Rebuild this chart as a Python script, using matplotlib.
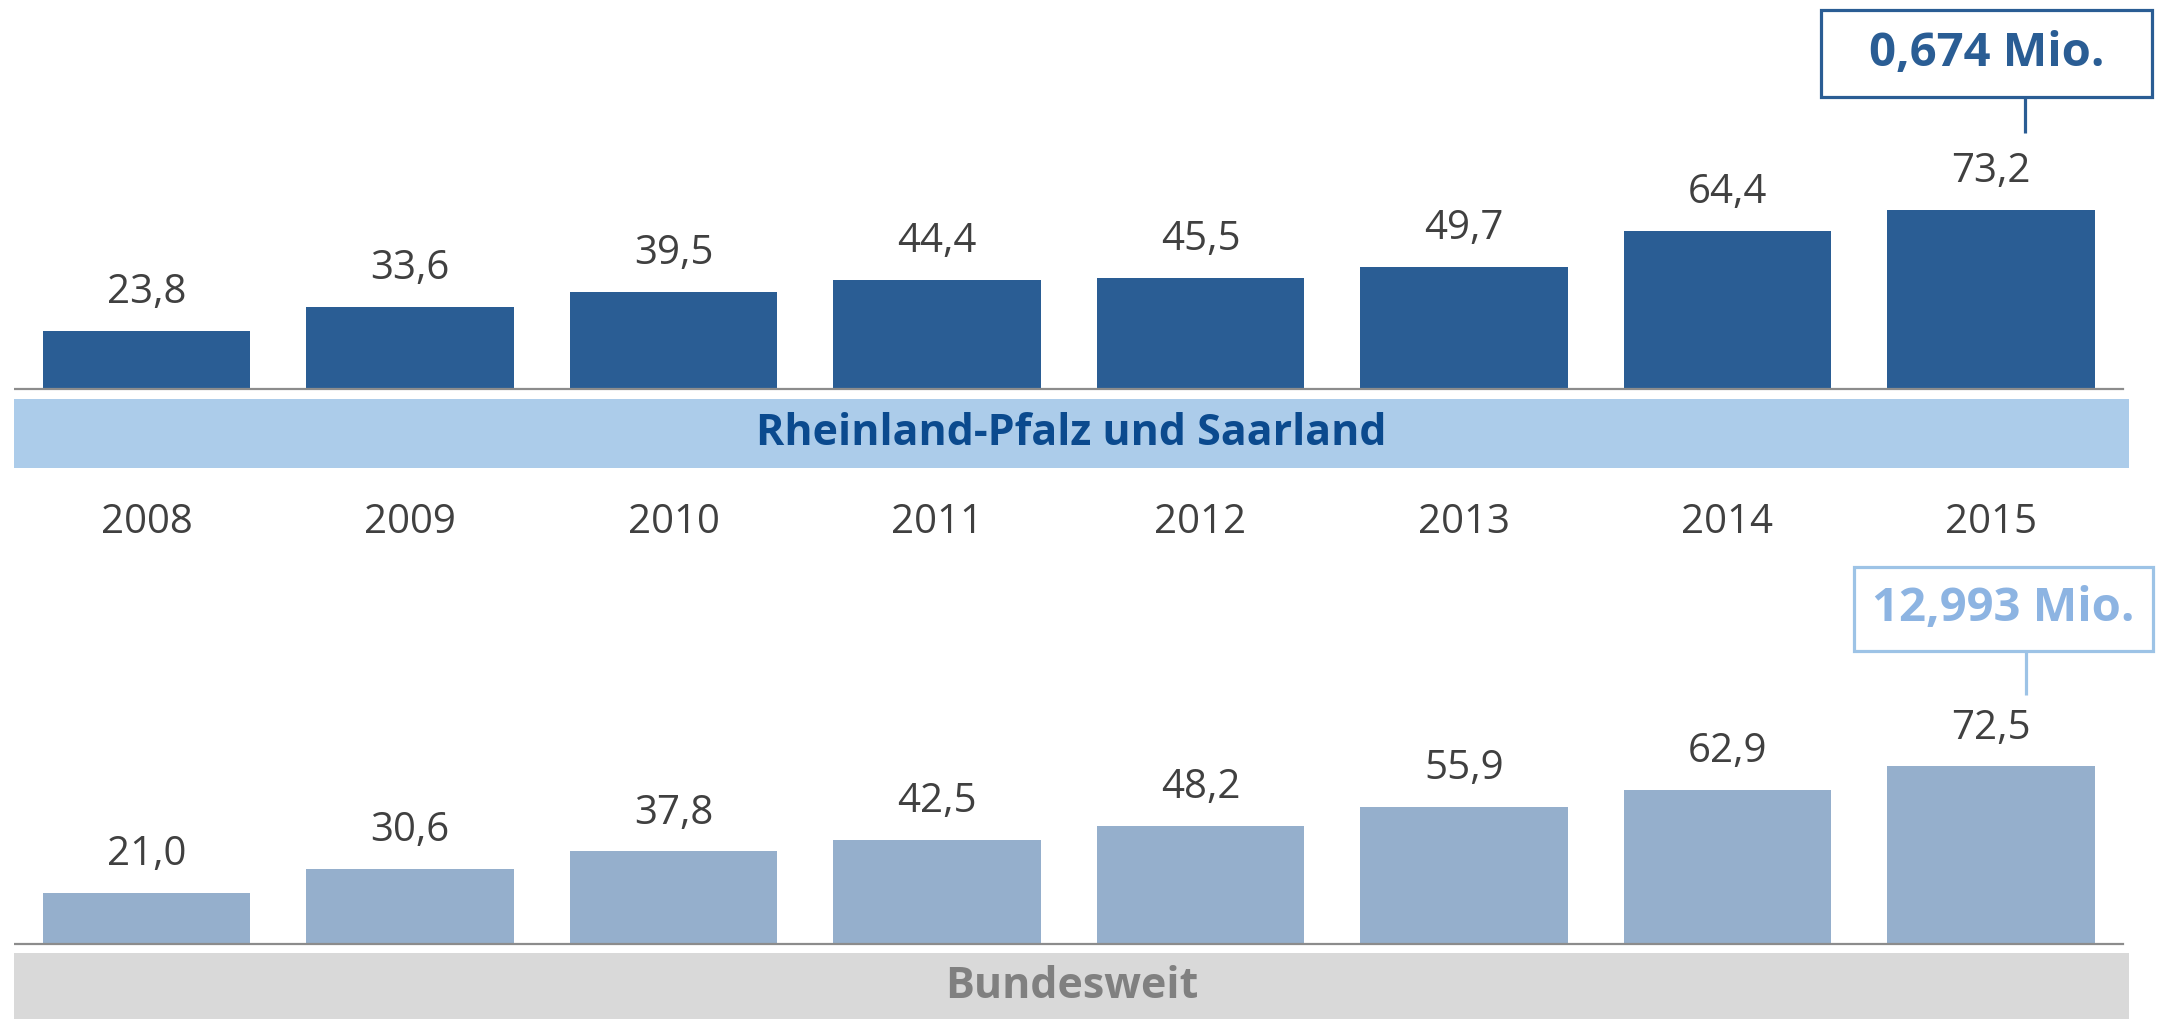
import matplotlib.pyplot as plt
from matplotlib.patches import Rectangle

years = ['2008', '2009', '2010', '2011', '2012', '2013', '2014', '2015']
rlp_values = [23.8, 33.6, 39.5, 44.4, 45.5, 49.7, 64.4, 73.2]
bund_values = [21.0, 30.6, 37.8, 42.5, 48.2, 55.9, 62.9, 72.5]
rlp_total = '0,674 Mio.'
bund_total = '12,993 Mio.'
rlp_title = 'Rheinland-Pfalz und Saarland'
bund_title = 'Bundesweit'

plt.rcParams['font.family'] = ['Open Sans', 'DejaVu Sans']

W, H = 2157, 1019
fig = plt.figure(figsize=(W / 100, H / 100), dpi=100)

ax_left = 14 / W
ax_width = 2115 / W
split = 540
ax_top = fig.add_axes([ax_left, 1 - split / H, ax_width, split / H])
ax_bot = fig.add_axes([ax_left, 0, ax_width, (H - split) / H])

px_per_unit = 2.45
xlim = (-0.503, 7.524)
text_grey = '#404040'


def fmt(v):
    return f'{v:.1f}'.replace('.', ',')


def draw_panel(ax, values, bar_color, base_px, top_px, bottom_px,
               band_color, band_top, band_bottom, title, title_color,
               total, box_edge, box_text, box_x, box_y, line_x, line_y0):
    x = list(range(len(values)))
    ax.set_xlim(*xlim)
    ax.set_ylim(-(bottom_px - base_px) / px_per_unit, (base_px - top_px) / px_per_unit)
    ax.axis('off')

    ax.bar(x, values, width=0.789, color=bar_color, zorder=2)
    ax.axhline(0, xmin=0, xmax=0.997, color='#8c8c8c', lw=1.6, zorder=3)
    for xi, v in zip(x, values):
        ax.annotate(fmt(v), (xi, v), xytext=(0, 38), textcoords='offset pixels',
                    ha='center', va='center', fontsize=29, color=text_grey)

    ax.axhspan(band_bottom, band_top, color=band_color, lw=0, zorder=1)
    ax.text(sum(xlim) / 2, (band_top + band_bottom) / 2, title, ha='center',
            va='center', fontsize=31, fontweight='bold', color=title_color)

    # callout box above the last bar
    last = x[-1]
    x0, x1 = last + box_x[0], last + box_x[1]
    y0, y1 = box_y
    ax.add_patch(Rectangle((x0, y0), x1 - x0, y1 - y0, fill=False,
                           edgecolor=box_edge, lw=2.3, clip_on=False, zorder=4))
    ax.text((x0 + x1) / 2, (y0 + y1) / 2, total, ha='center', va='center',
            fontsize=34, fontweight='bold', color=box_text)
    ax.plot([last + line_x] * 2, [line_y0, y0], color=box_edge, lw=2.3,
            clip_on=False, solid_capstyle='butt')


draw_panel(ax_top, rlp_values, '#2a5d94', 389, 0, split,
           '#acccea', -10 / px_per_unit, -79 / px_per_unit,
           rlp_title, '#0b4a8e', rlp_total, '#2a5d94', '#2a5d94',
           (-0.645, 0.611), (119.2, 154.7), 0.129, 104.5)

# year labels between the panels
for i, yr in enumerate(years):
    ax_top.text(i, -(523 - 389) / px_per_unit, yr, ha='center', va='center',
                fontsize=29, color=text_grey)

draw_panel(ax_bot, bund_values, '#95afcc', 944, split, H,
           '#d9d9d9', -9 / px_per_unit, -(H - 944) / px_per_unit,
           bund_title, '#808080', bund_total, '#9dc3e6', '#8db4e2',
           (-0.52, 0.615), (119.6, 153.9), 0.133, 101.6)

fig.savefig('out.png', dpi=100)
